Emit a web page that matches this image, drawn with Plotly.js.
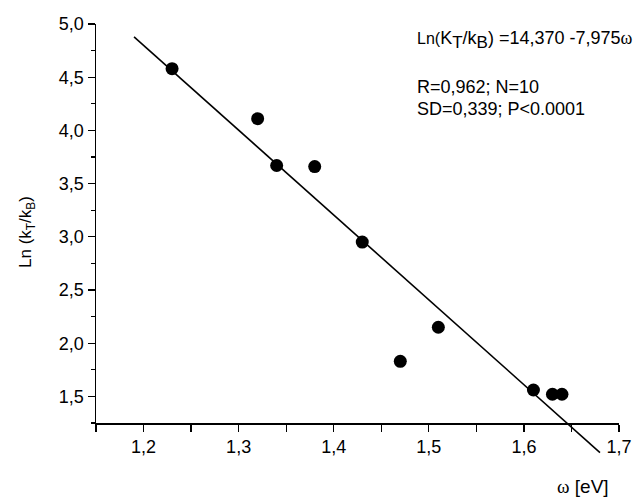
<!DOCTYPE html>
<html>
<head>
<meta charset="utf-8">
<script src="https://cdn.plot.ly/plotly-3.0.1.min.js"></script>
<style>html,body{margin:0;padding:0;background:#fff;}</style>
</head>
<body>
<div id="chart" style="width:635px;height:500px;"></div>
<script>
// Data
const omega = [1.23, 1.32, 1.34, 1.38, 1.43, 1.47, 1.51, 1.61, 1.63, 1.64];
const lnK   = [4.58, 4.11, 3.67, 3.66, 2.95, 1.83, 2.15, 1.56, 1.52, 1.52];
const fitIntercept = 14.370;
const fitSlope = -7.975;
const fitX = [1.19, 1.68];
const fitY = fitX.map(x => fitIntercept + fitSlope * x);

const xTickVals = [1.2, 1.3, 1.4, 1.5, 1.6, 1.7];
const yTickVals = [1.5, 2.0, 2.5, 3.0, 3.5, 4.0, 4.5, 5.0];

const F = 'Liberation Sans, Arial, sans-serif';

// layout geometry
const W = 635, H = 500, mt = 20, mb = 30, ml = 96, mr = 16;
const plotH = H - mt - mb;
const yTopPx = 24, yBotPx = 423;
const yDom = [(H - mb - yBotPx) / plotH, (H - mb - yTopPx) / plotH];
const yRange = [1.25, 5.0];
const pxPerUnit = (yBotPx - yTopPx) / (yRange[1] - yRange[0]);
const y2Range = [yRange[1] - (H - mb - yTopPx) / pxPerUnit, yRange[1]];
const px2x = px => (px - ml) / (W - ml - mr);
const px2y = py => (H - mb - py) / plotH;

const traces = [
  {
    x: fitX, y: fitY, xaxis: 'x', yaxis: 'y2',
    mode: 'lines', line: {color: '#000', width: 1.6},
    hoverinfo: 'skip', showlegend: false
  },
  {
    x: omega, y: lnK, xaxis: 'x', yaxis: 'y',
    mode: 'markers', marker: {color: '#000', size: 13},
    cliponaxis: false, showlegend: false
  }
];

const layout = {
  width: W, height: H,
  margin: {l: ml, r: mr, t: mt, b: mb},
  paper_bgcolor: '#fff', plot_bgcolor: 'rgba(0,0,0,0)',
  separators: ', ',
  showlegend: false,
  font: {family: F, size: 18, color: '#000'},
  xaxis: {
    range: [1.15, 1.7], anchor: 'y',
    tickvals: xTickVals, tickformat: '.1f',
    ticks: 'outside', ticklen: 7, tickwidth: 1.3, tickcolor: '#000',
    minor: {dtick: 0.05, tick0: 1.15, ticks: 'outside', ticklen: 7, tickwidth: 1.3, tickcolor: '#000', showgrid: false},
    showline: true, linecolor: '#000', linewidth: 1.5,
    showgrid: false, zeroline: false,
    tickfont: {family: F, size: 18, color: '#000'}
  },
  yaxis: {
    domain: yDom, range: yRange, anchor: 'x',
    tickvals: yTickVals, tickformat: '.1f',
    ticks: 'outside', ticklen: 7, tickwidth: 1.3, tickcolor: '#000',
    minor: {dtick: 0.25, tick0: 0, ticks: 'outside', ticklen: 4, tickwidth: 1.3, tickcolor: '#000', showgrid: false},
    showline: true, linecolor: '#000', linewidth: 1.5,
    showgrid: false, zeroline: false,
    tickfont: {family: F, size: 18, color: '#000'}
  },
  yaxis2: {
    domain: [0, yDom[1]], range: y2Range, anchor: 'x',
    visible: false, showgrid: false, zeroline: false
  },
  annotations: [
    {
      xref: 'paper', yref: 'paper', x: px2x(415), y: px2y(40),
      xanchor: 'left', yanchor: 'middle', showarrow: false,
      text: '<span style="font-size:16px">Ln(</span>K<sub><span style="font-size:17px">T</span></sub>/k<sub><span style="font-size:17px">B</span></sub>) =14,370 -7,975<span style="font-family:Liberation Serif">ω</span>',
      font: {family: F, size: 18, color: '#000'}
    },
    {
      xref: 'paper', yref: 'paper', x: px2x(415), y: px2y(87),
      xanchor: 'left', yanchor: 'middle', showarrow: false,
      text: 'R=0,962; N=10',
      font: {family: F, size: 18, color: '#000'}
    },
    {
      xref: 'paper', yref: 'paper', x: px2x(415), y: px2y(109),
      xanchor: 'left', yanchor: 'middle', showarrow: false,
      text: 'SD=0,339; P<0.0001',
      font: {family: F, size: 18, color: '#000'}
    },
    {
      xref: 'paper', yref: 'paper', x: px2x(583), y: px2y(487),
      xanchor: 'center', yanchor: 'middle', showarrow: false,
      text: '<span style="font-family:Liberation Serif">ω</span> [eV]',
      font: {family: F, size: 19, color: '#000'}
    },
    {
      xref: 'paper', yref: 'paper', x: px2x(27), y: px2y(232),
      xanchor: 'center', yanchor: 'middle', showarrow: false, textangle: -90,
      text: 'Ln (k<sub>T</sub>/k<sub>B</sub>)',
      font: {family: F, size: 17, color: '#000'}
    }
  ]
};

Plotly.newPlot('chart', traces, layout, {displayModeBar: false, staticPlot: true});
</script>
</body>
</html>
